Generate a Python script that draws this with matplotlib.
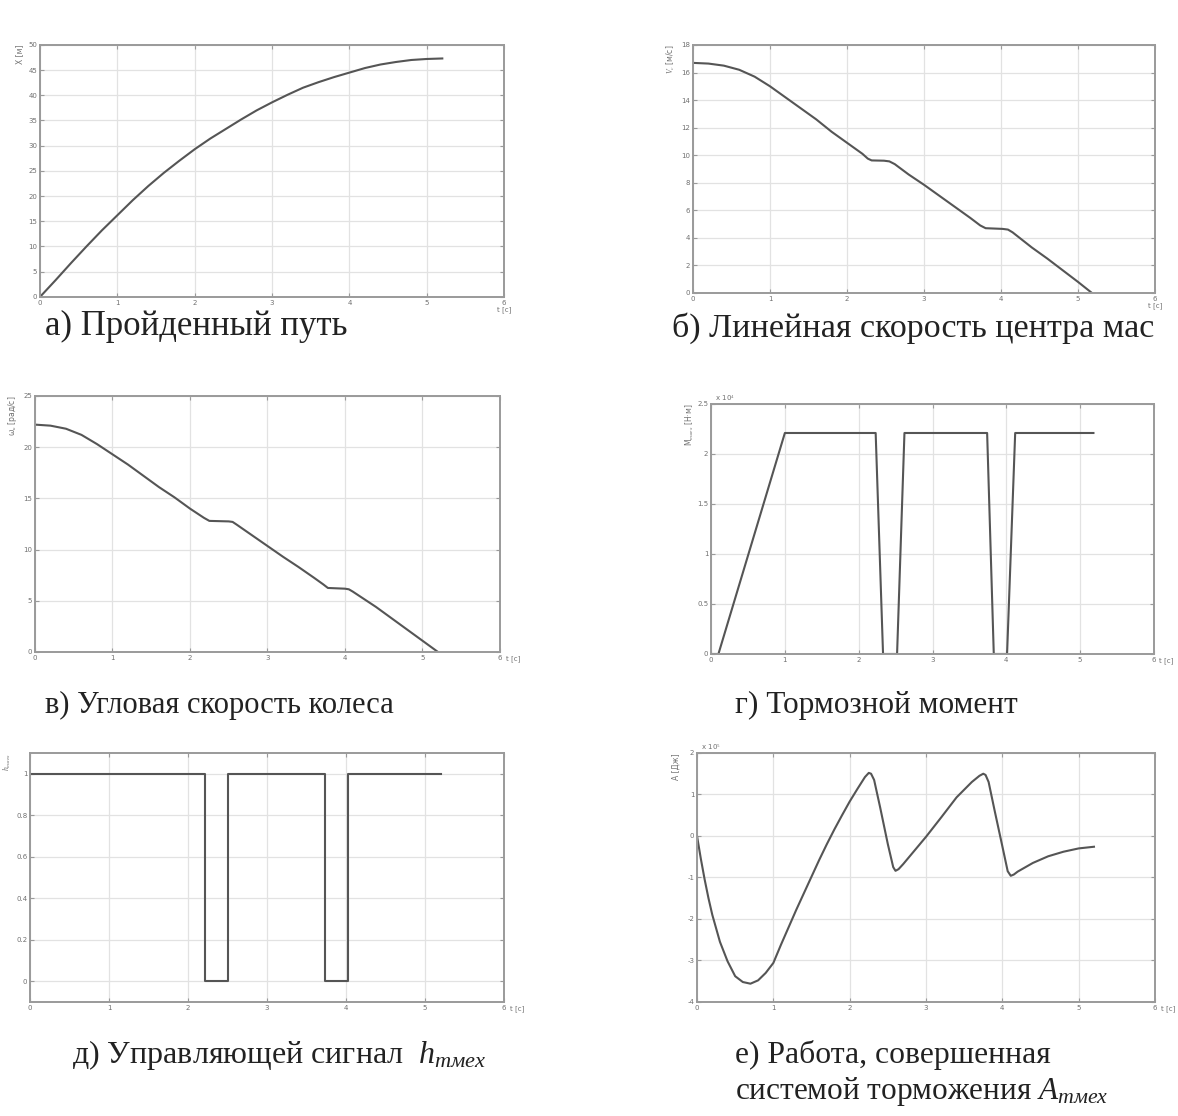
import matplotlib.pyplot as plt
from matplotlib.ticker import FuncFormatter

plt.rcParams['font.family'] = ['DejaVu Sans']
plt.rcParams['mathtext.fontset'] = 'custom'
plt.rcParams['mathtext.rm'] = 'Liberation Serif'
plt.rcParams['mathtext.it'] = 'Liberation Serif:italic'

# а) пройденный путь X [м]
t_x = [0, 0.2, 0.4, 0.6, 0.8, 1.0, 1.2, 1.4, 1.6, 1.8, 2.0, 2.2, 2.4, 2.6, 2.8, 3.0,
       3.2, 3.4, 3.6, 3.8, 4.0, 4.2, 4.4, 4.6, 4.8, 5.0, 5.2]
x_path = [0, 3.3, 6.7, 10.0, 13.2, 16.2, 19.2, 22.0, 24.6, 27.0, 29.3, 31.4, 33.3, 35.2,
          37.0, 38.6, 40.1, 41.5, 42.6, 43.6, 44.5, 45.4, 46.1, 46.6, 47.0, 47.2, 47.3]

# б) линейная скорость центра масс V_c [м/с]
t_v = [0, 0.2, 0.4, 0.6, 0.8, 1.0, 1.2, 1.4, 1.6, 1.8, 2.0, 2.2, 2.27, 2.32, 2.48, 2.55,
       2.62, 2.8, 3.0, 3.2, 3.4, 3.6, 3.73, 3.8, 4.02, 4.09, 4.15, 4.4, 4.6, 4.8, 5.0, 5.18]
v_c = [16.7, 16.65, 16.5, 16.2, 15.7, 15.0, 14.2, 13.4, 12.6, 11.7, 10.9, 10.1, 9.75,
       9.62, 9.6, 9.55, 9.35, 8.6, 7.85, 7.05, 6.25, 5.45, 4.9, 4.7, 4.65, 4.6, 4.4,
       3.3, 2.5, 1.65, 0.8, 0]

# в) угловая скорость колеса [рад/с]
t_w = [0, 0.2, 0.4, 0.6, 0.8, 1.0, 1.2, 1.4, 1.6, 1.8, 2.0, 2.18, 2.25, 2.5, 2.55, 2.6,
       2.8, 3.0, 3.2, 3.4, 3.6, 3.72, 3.78, 4.0, 4.05, 4.1, 4.4, 4.6, 4.8, 5.0, 5.2]
omega = [22.2, 22.1, 21.8, 21.2, 20.3, 19.3, 18.3, 17.2, 16.1, 15.1, 14.0, 13.1, 12.8,
         12.75, 12.7, 12.45, 11.4, 10.35, 9.3, 8.3, 7.25, 6.6, 6.25, 6.18, 6.12, 5.9,
         4.4, 3.3, 2.2, 1.1, 0]

# г) тормозной момент, x10^4 [Н·м]
t_m = [0, 0.1, 1.0, 2.23, 2.33, 2.52, 2.62, 3.74, 3.83, 4.01, 4.12, 5.18]
m_brake = [0, 0, 2.21, 2.21, 0, 0, 2.21, 2.21, 0, 0, 2.21, 2.21]

# д) управляющий сигнал h
t_h = [0, 2.22, 2.22, 2.51, 2.51, 3.73, 3.73, 4.02, 4.02, 5.2]
h_sig = [1, 1, 0, 0, 1, 1, 0, 0, 1, 1]

# е) работа системы торможения, x10^5 [Дж]
t_a = [0, 0.05, 0.1, 0.15, 0.2, 0.3, 0.4, 0.5, 0.6, 0.7, 0.8, 0.9, 1.0, 1.1, 1.2, 1.3,
       1.4, 1.5, 1.6, 1.7, 1.8, 1.9, 2.0, 2.1, 2.2, 2.25, 2.28, 2.32, 2.4, 2.5, 2.57,
       2.6, 2.64, 2.7, 2.8, 2.9, 3.0, 3.2, 3.4, 3.6, 3.7, 3.75, 3.78, 3.82, 3.9, 4.0,
       4.07, 4.11, 4.15, 4.2, 4.4, 4.6, 4.8, 5.0, 5.2]
work = [0, -0.55, -1.05, -1.5, -1.9, -2.55, -3.02, -3.38, -3.52, -3.56, -3.48, -3.3,
        -3.06, -2.62, -2.2, -1.78, -1.38, -0.98, -0.58, -0.2, 0.16, 0.5, 0.83, 1.13,
        1.42, 1.52, 1.5, 1.35, 0.68, -0.2, -0.75, -0.84, -0.8, -0.68, -0.46, -0.24,
        -0.02, 0.45, 0.93, 1.3, 1.45, 1.5, 1.47, 1.3, 0.6, -0.25, -0.85, -0.96, -0.93,
        -0.86, -0.65, -0.49, -0.38, -0.3, -0.26]

LINE = '#555555'
SPINE = '#9a9a9a'
GRID = '#e2e2e2'
TICKC = '#707070'
SERIF = 'Liberation Serif'

fig = plt.figure(figsize=(11.78, 11.16), dpi=100)


def make_axes(rect, ylim, yticks, ylabel, xlab_under=True):
    ax = fig.add_axes(rect)
    ax.set_xlim(0, 6)
    ax.set_ylim(*ylim)
    ax.set_xticks(range(7))
    ax.set_yticks(yticks)
    ax.yaxis.set_major_formatter(FuncFormatter(lambda v, p: '%g' % v))
    ax.grid(True, color=GRID, linewidth=0.9)
    ax.set_axisbelow(True)
    for s in ax.spines.values():
        s.set_color(SPINE)
        s.set_linewidth(1.4)
    ax.tick_params(direction='in', length=3, width=0.8, top=True, right=True,
                   labelsize=5, colors=SPINE, labelcolor=TICKC, pad=2)
    ax.text(-0.035, 1.0, ylabel, transform=ax.transAxes, rotation=90,
            ha='right', va='top', fontsize=5.5, color=TICKC)
    if xlab_under:
        ax.text(1.0, -0.036, 't [c]', transform=ax.transAxes, ha='center',
                va='top', fontsize=5, color=TICKC)
    else:
        ax.text(1.012, -0.012, 't [c]', transform=ax.transAxes, ha='left',
                va='top', fontsize=5, color=TICKC)
    return ax


ax_a = make_axes([0.034, 0.734, 0.394, 0.2258], (0, 50), range(0, 51, 5), 'X [м]')
ax_a.plot(t_x, x_path, color=LINE, lw=1.5)

ax_b = make_axes([0.5883, 0.7375, 0.3922, 0.2222], (0, 18), range(0, 19, 2), '$V_c$ [м/с]')
ax_b.plot(t_v, v_c, color=LINE, lw=1.5)

ax_c = make_axes([0.0297, 0.4158, 0.3947, 0.2294], (0, 25), range(0, 26, 5),
                 'ω$_к$ [рад/с]', xlab_under=False)
ax_c.plot(t_w, omega, color=LINE, lw=1.5)

ax_d = make_axes([0.6036, 0.414, 0.376, 0.224], (0, 2.5), [0, 0.5, 1, 1.5, 2, 2.5],
                 'M$_{тмех}$ [Н·м]', xlab_under=False)
ax_d.plot(t_m, m_brake, color=LINE, lw=1.5)
ax_d.text(0.0, 1.005, '  x 10$^4$', transform=ax_d.transAxes, ha='left',
          va='bottom', fontsize=5, color=TICKC)

ax_e = make_axes([0.0255, 0.1022, 0.4024, 0.2231], (-0.1, 1.1), [0, 0.2, 0.4, 0.6, 0.8, 1],
                 '$h_{тмех}$', xlab_under=False)
ax_e.plot(t_h, h_sig, color=LINE, lw=1.5)

ax_f = make_axes([0.5917, 0.1022, 0.3888, 0.2231], (-4, 2), range(-4, 3),
                 'A [Дж]', xlab_under=False)
ax_f.plot(t_a, work, color=LINE, lw=1.5)
ax_f.text(0.0, 1.005, '  x 10$^5$', transform=ax_f.transAxes, ha='left',
          va='bottom', fontsize=5, color=TICKC)

# подписи
cap = dict(family=SERIF, color='#222222', va='center', ha='left')
fig.text(45 / 1178, 1 - 326 / 1116, 'а) Пройденный путь', fontsize=25, **cap)
fig.text(672 / 1178, 1 - 328 / 1116, 'б) Линейная скорость центра мас', fontsize=24.5, **cap)
fig.text(45 / 1178, 1 - 705 / 1116, 'в) Угловая скорость колеса', fontsize=22, **cap)
fig.text(735 / 1178, 1 - 705 / 1116, 'г) Тормозной момент', fontsize=22.5, **cap)
fig.text(72 / 1178, 1 - 1055 / 1116, 'д) Управляющей сигнал  $\\mathit{h_{тмех}}$',
         fontsize=23, **cap)
fig.text(735 / 1178, 1 - 1055 / 1116, 'е) Работа, совершенная', fontsize=22.8, **cap)
fig.text(735 / 1178, 1 - 1092 / 1116, 'системой торможения $\\mathit{A_{тмех}}$',
         fontsize=22.5, **cap)

fig.savefig('out.png', dpi=100, facecolor='white')
